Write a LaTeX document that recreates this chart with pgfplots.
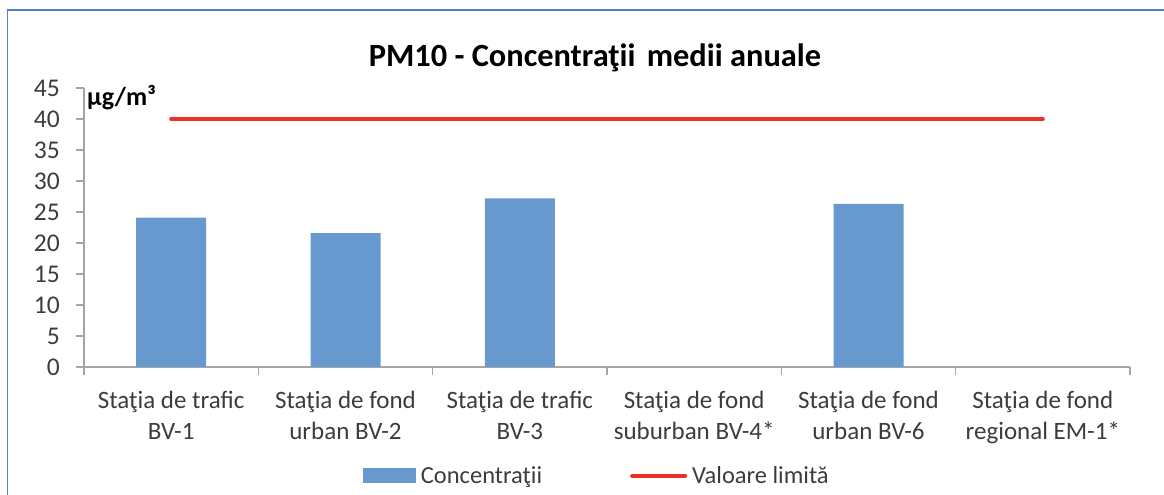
\documentclass[border=0pt]{standalone}
\usepackage{fontspec}
\setmainfont{Carlito}
\usepackage{pgfplots}
\pgfplotsset{compat=1.18}
\definecolor{barblue}{RGB}{103,153,207}
\definecolor{limred}{RGB}{234,51,38}
\definecolor{axgray}{RGB}{165,165,165}
\definecolor{frameblue}{RGB}{79,129,207}
\definecolor{txtgray}{RGB}{60,60,60}
\begin{document}
\begin{tikzpicture}
\useasboundingbox (0,0) rectangle (1164pt,495pt);
\draw[frameblue, line width=1.5pt] (7.7pt,0) -- (7.7pt,485pt) -- (1164pt,485pt);
\node[anchor=base, font=\fontsize{32.4}{37}\selectfont\bfseries] at (595pt,428.3pt) {PM10 - Concentraţii\hspace{0.12em} medii anuale};
\node[anchor=base west, inner sep=0pt, font=\fontsize{26}{30}\selectfont\bfseries] at (87pt,389pt) {µg/m³};
\begin{axis}[
  at={(84pt,128pt)}, anchor=south west,
  scale only axis, width=1046pt, height=279pt,
  xmin=-0.5, xmax=5.5, ymin=0, ymax=45,
  axis lines*=left,
  axis line style={axgray, line width=1.5pt},
  tick align=outside,
  major tick length=8pt, minor tick length=8pt,
  ytick={0,5,...,45},
  xtick={0,...,5},
  minor xtick={-0.5,0.5,...,5.5},
  major x tick style={draw=none},
  minor x tick style={axgray, line width=1.5pt},
  ytick style={axgray, line width=1.5pt},
  xticklabels={{Staţia de trafic\\BV-1},{Staţia de fond\\urban BV-2},{Staţia de trafic\\BV-3},{Staţia de fond\\suburban BV-4*},{Staţia de fond\\urban BV-6},{Staţia de fond\\regional EM-1*}},
  /pgf/number format/assume math mode=true,
  tick label style={text=txtgray},
  xticklabel style={font=\fontsize{25}{30.5}\selectfont, align=center, inner sep=0pt, anchor=north, yshift=-16pt},
  yticklabel style={font=\fontsize{25.5}{30}\selectfont, inner sep=0pt, anchor=east, xshift=-16pt},
  legend columns=2,
  legend style={at={(0.4904,-0.39)}, anchor=center, draw=none, fill=none,
    font=\fontsize{24.5}{29}\selectfont, text=txtgray,
    column sep=3pt,
    /tikz/every even column/.append style={column sep=86pt}},
]
\addplot[ybar, bar width=70pt, fill=barblue, draw=none,
  legend image code/.code={\fill[barblue] (0pt,-7.35pt) rectangle (52.7pt,7.35pt);}]
  coordinates {(0,24.1) (1,21.6) (2,27.2) (4,26.3)};
\addlegendentry{Concentraţii}
\addplot[limred, line width=4pt, line cap=round,
  legend image code/.code={\draw[limred, line width=4pt, line cap=round] (2pt,0pt) -- (55pt,0pt);}]
  coordinates {(0,40) (5,40)};
\addlegendentry{Valoare limită}
\end{axis}
\end{tikzpicture}
\end{document}
